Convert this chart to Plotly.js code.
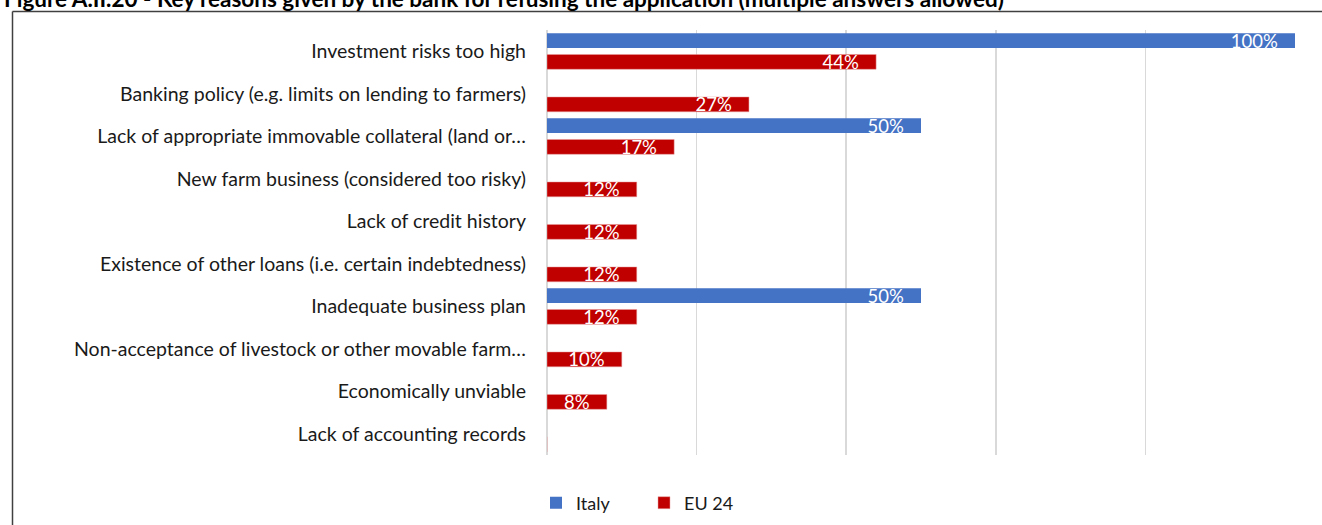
<!DOCTYPE html>
<html>
<head>
<meta charset="utf-8">
<script src="https://cdn.plot.ly/plotly-3.0.1.min.js"></script>
<style>html,body{margin:0;padding:0;background:#fff;}#chart{width:1322px;height:525px;}</style>
</head>
<body>
<div id="chart"></div>
<script>
const categories = [
  "Investment risks too high",
  "Banking policy (e.g. limits on lending to farmers)",
  "Lack of appropriate immovable collateral (land or…",
  "New farm business (considered too risky)",
  "Lack of credit history",
  "Existence of other loans (i.e. certain indebtedness)",
  "Inadequate business plan",
  "Non-acceptance of livestock or other movable farm…",
  "Economically unviable",
  "Lack of accounting records"
];
const italyValues = [100, null, 50, null, null, null, 50, null, null, null];
const eu24Values = [44, 27, 17, 12, 12, 12, 12, 10, 8, 0];
const seriesNames = ["Italy", "EU 24"];
const titleText = "Figure A.II.20 - Key reasons given by the bank for refusing the application (multiple answers allowed)";

const W = 1322, H = 525;
const mL = 547, mR = 27, mT = 30, mB = 70;
const pw = W - mL - mR, ph = H - mT - mB;
const px = x => (x - mL) / pw;
const py = y => (H - mB - y) / ph;
const pad = "\u00A0\u00A0\u00A0";
const lbl = arr => arr.map(v => (v ? v + "%" + pad : ""));
const FONT = "Lato, 'Open Sans', sans-serif";

const common = {
  type: "bar",
  orientation: "h",
  y: categories,
  textposition: "inside",
  insidetextanchor: "end",
  constraintext: "none",
  textfont: {family: FONT, size: 18.5, color: "#ffffff"},
  hoverinfo: "x+y"
};

const data = [
  Object.assign({}, common, {name: seriesNames[0], x: italyValues, text: lbl(italyValues), marker: {color: "#4472C4"}}),
  Object.assign({}, common, {name: seriesNames[1], x: eu24Values, text: lbl(eu24Values), marker: {color: "#C00000", line: {color: "#E8A0A0", width: 0.5}}})
];

const layout = {
  width: W, height: H,
  margin: {l: mL, r: mR, t: mT, b: mB, autoexpand: false},
  paper_bgcolor: "#ffffff",
  plot_bgcolor: "#ffffff",
  font: {family: FONT, size: 19, color: "#1a1a1a"},
  barmode: "group",
  bargap: 0.0,
  bargroupgap: 0.3,
  showlegend: true,
  legend: {orientation: "h", x: px(536), xanchor: "left", y: py(503), yanchor: "middle", font: {family: FONT, size: 18, color: "#1a1a1a"}, itemwidth: 30, entrywidth: 63, entrywidthmode: "pixels", traceorder: "normal", bgcolor: "rgba(0,0,0,0)"},
  xaxis: {range: [0, 100], dtick: 20, showgrid: true, gridcolor: "#D9D9D9", gridwidth: 1.5, zeroline: true, zerolinecolor: "#D9D9D9", zerolinewidth: 1.5, showticklabels: false, showline: false, fixedrange: true},
  yaxis: {autorange: "reversed", showgrid: false, zeroline: false, showline: false, ticks: "", ticklabelstandoff: 20, tickfont: {family: FONT, size: 19.5, color: "#1a1a1a"}, fixedrange: true},
  shapes: [
    {type: "line", xref: "paper", yref: "paper", x0: px(12.5), x1: px(1322), y0: py(11.5), y1: py(11.5), line: {color: "#404040", width: 1.5}},
    {type: "line", xref: "paper", yref: "paper", x0: px(12.5), x1: px(12.5), y0: py(11.5), y1: py(525), line: {color: "#404040", width: 1.5}}
  ],
  annotations: [
    {text: "<b>" + titleText + "</b>", xref: "paper", yref: "paper", x: px(2), y: py(-2), xanchor: "left", yanchor: "middle", showarrow: false, font: {family: FONT, size: 22.5, color: "#000000"}}
  ]
};

Plotly.newPlot("chart", data, layout, {displayModeBar: false, staticPlot: true});
</script>
</body>
</html>
